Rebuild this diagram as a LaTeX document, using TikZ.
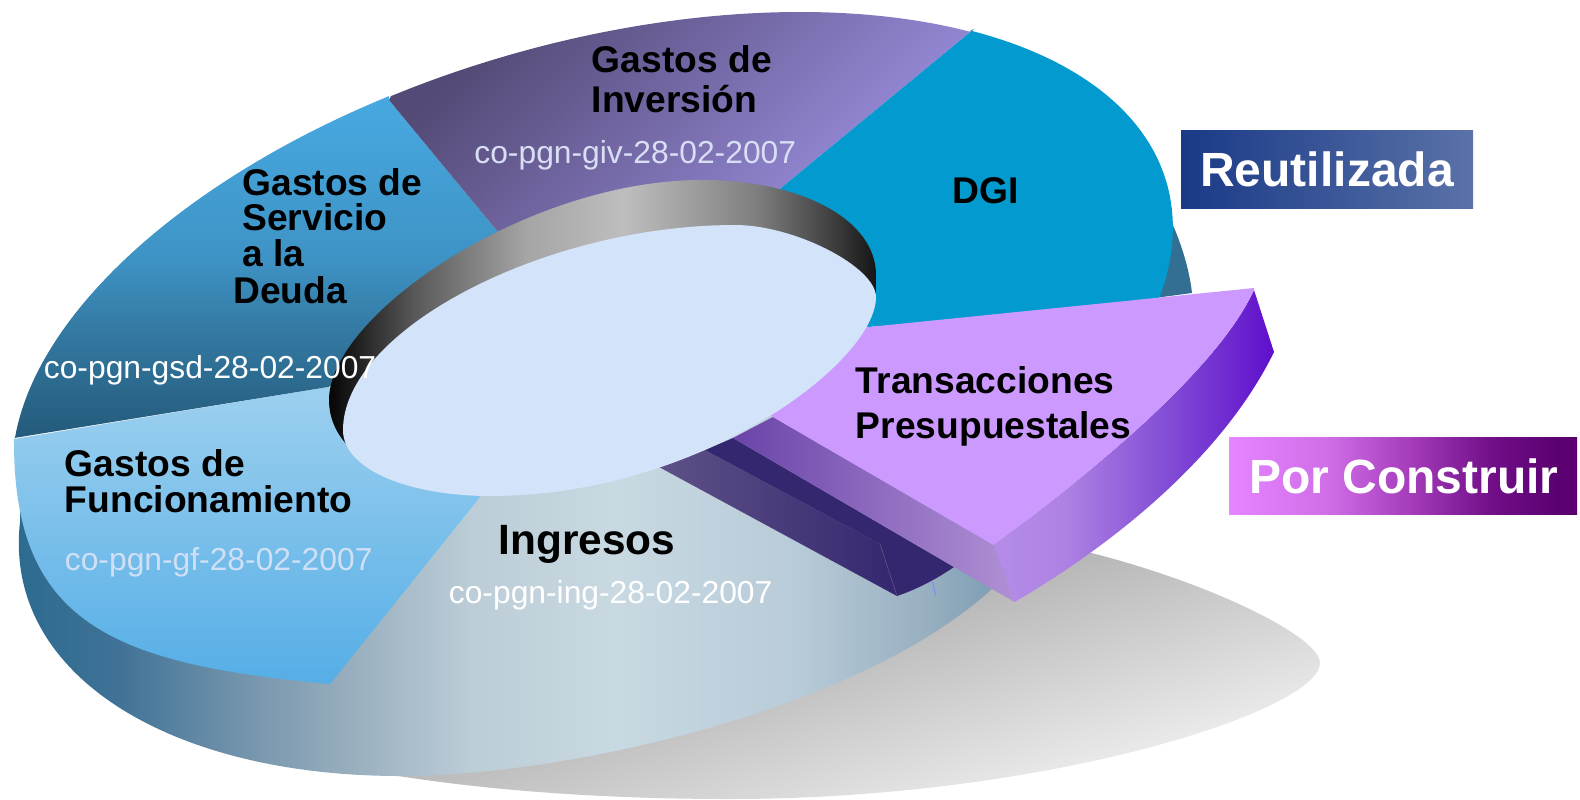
\documentclass[tikz,border=0pt]{standalone}
\usepackage{fontspec}
\setmainfont{Liberation Sans}
\usepackage{tikz}
\usetikzlibrary{calc}
\definecolor{bodyA}{HTML}{2A6A8F}\definecolor{bodyB}{HTML}{3F7296}\definecolor{bodyC}{HTML}{6B8EA8}
\definecolor{bodyD}{HTML}{97ADBD}\definecolor{bodyE}{HTML}{BCCDD7}\definecolor{bodyF}{HTML}{C8D9E2}
\definecolor{bodyG}{HTML}{B8CBD8}\definecolor{bodyH}{HTML}{97AFC0}\definecolor{bodyI}{HTML}{7D9DB3}
\definecolor{hubA}{HTML}{050505}\definecolor{hubB}{HTML}{5A5A5A}\definecolor{hubC}{HTML}{A5A5A5}
\definecolor{hubD}{HTML}{BEBEBE}\definecolor{hubE}{HTML}{7F7F7F}\definecolor{hubF}{HTML}{3A3A3A}\definecolor{hubG}{HTML}{151515}
\definecolor{gfT}{HTML}{9DD0EF}\definecolor{gfB}{HTML}{55AEE6}
\definecolor{gsdA}{HTML}{245A7A}\definecolor{gsdB}{HTML}{347AA3}\definecolor{gsdC}{HTML}{3E93C5}\definecolor{gsdD}{HTML}{47A9E1}
\definecolor{givA}{HTML}{544A76}\definecolor{givB}{HTML}{A598EE}
\definecolor{dgiblue}{HTML}{029ACF}\definecolor{sideteal}{HTML}{336F92}
\definecolor{hubtop}{HTML}{D3E3F9}\definecolor{wedgetop}{HTML}{CC99FF}
\definecolor{wrA}{HTML}{B58CE8}\definecolor{wrB}{HTML}{AE82E3}\definecolor{wrC}{HTML}{8450D6}\definecolor{wrD}{HTML}{5F0FCB}
\definecolor{wlA}{HTML}{6A44A8}\definecolor{wlB}{HTML}{B090D4}
\definecolor{stripdark}{HTML}{35276F}\definecolor{stripA}{HTML}{5E5186}
\definecolor{reuA}{HTML}{1A3A87}\definecolor{reuB}{HTML}{5A72A8}
\definecolor{porA}{HTML}{E585FF}\definecolor{porB}{HTML}{D06EE8}\definecolor{porC}{HTML}{A53CBB}\definecolor{porD}{HTML}{6F0E87}\definecolor{porE}{HTML}{5A0070}
\definecolor{gflabel}{HTML}{CFE0F5}\definecolor{givlabel}{HTML}{D8DFF5}
\pgfdeclarehorizontalshading{bodyshade}{100bp}{color(0bp)=(bodyA); color(25bp)=(bodyA); color(30.5bp)=(bodyB); color(35.5bp)=(bodyC); color(41.5bp)=(bodyD); color(47.6bp)=(bodyE); color(54.5bp)=(bodyF); color(63.3bp)=(bodyG); color(69.6bp)=(bodyH); color(73bp)=(bodyI); color(100bp)=(bodyI)}
\pgfdeclarehorizontalshading{hubshade}{100bp}{color(0bp)=(hubA); color(25bp)=(hubA); color(33bp)=(hubB); color(43bp)=(hubC); color(52bp)=(hubD); color(64bp)=(hubE); color(71.5bp)=(hubF); color(75bp)=(hubG); color(100bp)=(hubG)}
\pgfdeclareverticalshading{gsdshade}{100bp}{color(0bp)=(gsdA); color(25bp)=(gsdA); color(41bp)=(gsdB); color(51.3bp)=(gsdC); color(75bp)=(gsdD); color(100bp)=(gsdD)}
\pgfdeclarehorizontalshading{wrshade}{100bp}{color(0bp)=(wrA); color(25bp)=(wrA); color(37.5bp)=(wrB); color(55bp)=(wrC); color(75bp)=(wrD); color(100bp)=(wrD)}
\pgfdeclarehorizontalshading{porshade}{100bp}{color(0bp)=(porA); color(25bp)=(porA); color(39bp)=(porB); color(51bp)=(porC); color(63bp)=(porD); color(72.6bp)=(porE); color(100bp)=(porE)}
\tikzset{
  declare function={rimx(\t)=593+596*cos(\t)*.9608+305.7*sin(\t)*.2773; rimy(\t)=349-596*cos(\t)*.2773+305.7*sin(\t)*.9608;},
  boldlabel/.style={anchor=base west,inner sep=0pt,font=\fontsize{18.6}{20}\bfseries\selectfont},
  codelabel/.style={anchor=base west,inner sep=0pt,font=\fontsize{15.9}{18}\selectfont},
  legendlabel/.style={anchor=base,inner sep=0pt,text=white,font=\fontsize{24}{26}\bfseries\selectfont}
}
\begin{document}
\begin{tikzpicture}[x=.5pt,y=-.5pt]
\useasboundingbox (0,0) rectangle (1580,799);
\shade[top color=black!45,bottom color=black!4,shading angle=17] (1000,535) .. controls (1150,555) and (1320,630) .. (1320,663) .. controls (1320,710) and (1050,799) .. (730,799) .. controls (600,799) and (480,790) .. (380,773) -- (800,600) -- cycle;
\fill[sideteal] (1172,223) .. controls (1184,250) and (1190,275) .. (1192,293) -- (1140,300) -- (1150,230) -- cycle;
\shade[shading=bodyshade] (20,522) .. controls (3,675) and (170,776) .. (400,776) .. controls (590,776) and (950,690) .. (1040,530) -- (780,380) -- (300,400) -- (20,480) -- cycle;
\shade[top color=gfT,bottom color=gfB] (14,439) .. controls (13,622) and (110,664) .. (330,684) -- (480,497) -- (450,420) -- (328,387) -- cycle;
\shade[shading=gsdshade] (14,438) -- plot[smooth,domain=194:258,samples=30] ({rimx(\x)-2},{rimy(\x)}) -- (389,100) -- (493,226) -- (560,300) -- (450,350) -- (328,387) -- cycle;
\shade[top color=givA,bottom color=givB,shading angle=45] (389,100) -- plot[smooth,domain=258:319,samples=30] ({rimx(\x)},{rimy(\x)}) -- (974,29) -- (758,207) -- (640,260) -- (560,300) -- (493,226) -- cycle;
\fill[dgiblue] (974,29) -- plot[smooth,domain=319:382,samples=30] ({rimx(\x)+1},{rimy(\x)-1}) -- (868,327) -- (800,280) -- (758,207) -- cycle;
\shade[left color=stripA,right color=stripdark] (705,450) -- (880,544) -- (897,596) -- (659,467) -- cycle;
\fill[stripdark] (733,438) -- (954,567) .. controls (935,580) and (915,590) .. (897,596) -- (880,544) -- (705,450) -- cycle;
\draw[stripA,line width=.3pt] (880,544) -- (897,596);
\draw[blue!50!white,line width=.4pt] (932.5,582) -- (935.5,595);
\shade[left color=wlA,right color=wlB] (773,417) -- (993.5,545) -- (1014.6,602) -- (954,567) -- (733,438) -- cycle;
\shade[shading=wrshade] (1254,290) .. controls (1215,375) and (1075,485) .. (993.5,545) -- (1014.6,602) .. controls (1112,545) and (1222,458) .. (1274,352) -- cycle;
\fill[wedgetop] (868.5,327) -- (1254,288) -- (1254,290) .. controls (1215,375) and (1075,485) .. (993.5,545) -- (773,417) -- (700,350) -- cycle;
\shade[shading=hubshade] (352,450) .. controls (338,437) and (329,420) .. (329,400) .. controls (329,315) and (527,180) .. (702,180) .. controls (802,180) and (876,220) .. (876,275) -- (876,297) -- (700,350) -- cycle;
\fill[hubtop] (343,430) .. controls (343,330) and (545,225) .. (735,225) .. controls (795,225) and (876,267) .. (876,297) .. controls (876,362) and (700,496) .. (490,496) .. controls (410,496) and (343,470) .. (343,430) -- cycle;
\node[boldlabel] (giv1) at (591.5,72) {Gastos de};
\node[boldlabel] (giv2) at (591.5,112.5) {Inversión};
\node[codelabel,text=givlabel] (givcode) at (474,163) {co-pgn-giv-28-02-2007};
\node[boldlabel] (dgi) at (952,203) {DGI};
\node[boldlabel] (gsd1) at (242,195) {Gastos de};
\node[boldlabel] (gsd2) at (242,230) {Servicio};
\node[boldlabel] (gsd3) at (242,266) {a la};
\node[boldlabel] (gsd4) at (233,303) {Deuda};
\node[codelabel,text=white] (gsdcode) at (43.5,378) {co-pgn-gsd-28-02-2007};
\node[boldlabel] (gf1) at (64.5,476) {Gastos de};
\node[boldlabel] (gf2) at (64.5,512) {Funcionamiento};
\node[codelabel,text=gflabel] (gfcode) at (64.5,570) {co-pgn-gf-28-02-2007};
\node[boldlabel,font=\fontsize{21.2}{23}\bfseries\selectfont] (ing) at (498,554) {Ingresos};
\node[codelabel,text=white] (ingcode) at (448.5,603) {co-pgn-ing-28-02-2007};
\node[boldlabel] (tp1) at (855.5,393) {Transacciones};
\node[boldlabel] (tp2) at (855.5,438) {Presupuestales};
\shade[left color=reuA,right color=reuB] (1181,130) rectangle (1473,208);
\node[legendlabel] (reu) at (1327,186.5) {Reutilizada};
\shade[shading=porshade] (1229,437) rectangle (1577,514);
\node[legendlabel] (por) at (1404,493.5) {Por Construir};
\end{tikzpicture}
\end{document}
